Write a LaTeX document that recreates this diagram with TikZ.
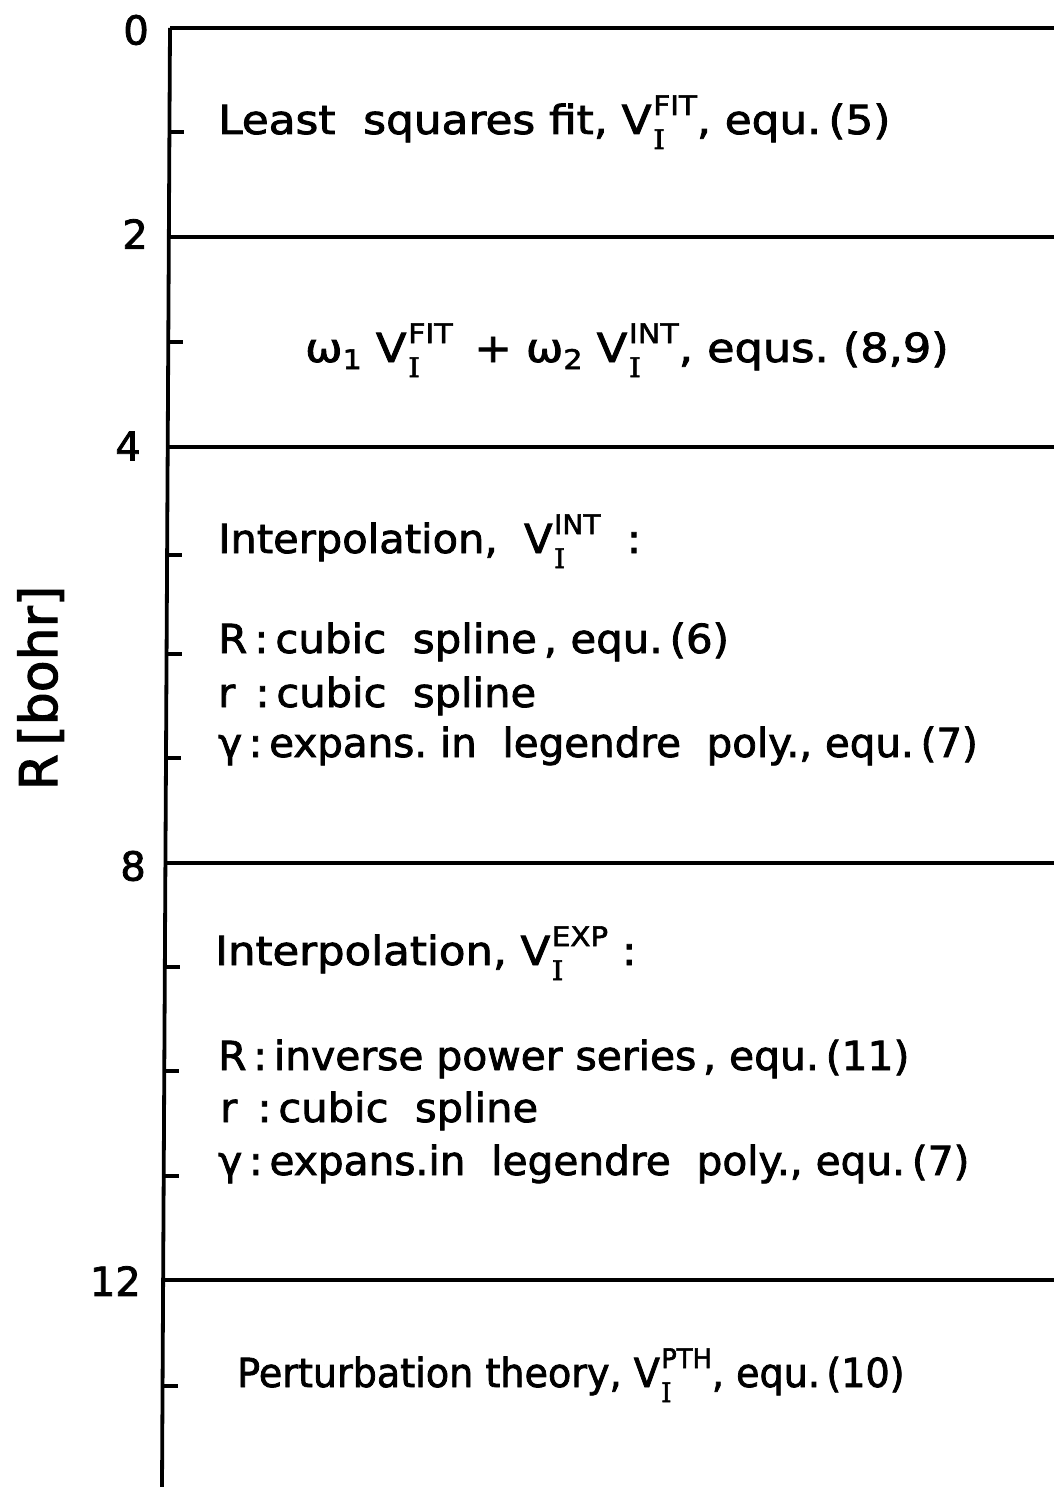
\documentclass[tikz,border=0pt]{standalone}
\usepackage{fontspec}
\usepackage{amsmath}
\setmainfont{DejaVu Sans}[FakeBold=2]
\newfontfamily\serI{DejaVu Serif}[FakeBold=2]
\newcommand{\supsz}{\fontsize{27}{27}\selectfont}
\newcommand{\Vp}[1]{V\kern1.5pt\rlap{\raisebox{-15pt}{\serI\fontsize{27}{27}\selectfont I}}\raisebox{19pt}{\supsz #1}}
\newcommand{\om}[1]{ω\raisebox{-7pt}{\supsz #1}}
\newcommand{\sx}[2]{\scalebox{#1}[1]{#2}}
\tikzset{
  ln/.style={line width=3.2pt},
  ax/.style={line width=3.8pt},
  tk/.style={line width=3.8pt},
  txt/.style={anchor=base west, inner sep=0pt, font=\fontsize{40}{46}\selectfont},
  num/.style={anchor=east, inner sep=0pt, font=\fontsize{40}{44}\selectfont},
}
\begin{document}
\begin{tikzpicture}[x=1pt,y=-1pt]
\useasboundingbox (0,0) rectangle (1054,1487);
% axis
\coordinate (atop) at (170,28);
\coordinate (abot) at (162,1487);
\draw[ax] (atop) -- (abot);
% horizontal boundaries
\foreach \yy/\xx/\nm in {28/170/0, 237/168.9/2, 447/167.7/4, 863/165.4/8, 1280/163.1/12}{
  \coordinate (h\nm) at (\xx,\yy);
  \coordinate (e\nm) at (1054,\yy);
  \draw[ln] (h\nm) -- (e\nm);
}
% ticks
\foreach \yy/\xx in {132/169.4, 342/168.3, 555/167.1, 654/166.6, 758/166, 967/164.9, 1071/164.3, 1176/163.7, 1386/162.5}{
  \draw[tk] (\xx,\yy) -- ++(15,0);
}
% axis numbers
\node[num] (n0) at (149,30) {0};
\node[num] (n2) at (148,234) {2};
\node[num] (n4) at (141,446) {4};
\node[num] (n8) at (146,866) {8};
\node[num] (n12) at (141,1281) {12};
\node[rotate=90, anchor=base, inner sep=0pt, font=\fontsize{52}{60}\selectfont] (lab) at (57,688) {R\,[bohr]};
% texts
\node[txt] (t1) at (218,134) {\sx{1.094}{Least\ \ squares fit, \Vp{FIT}, equ.\,(5)}};
\node[txt] (t2) at (305,362) {\sx{1.116}{\om{1} \Vp{FIT} \,+ \om{2} \Vp{INT}, equs.\ (8,9)}};
\node[txt] (t3) at (218,553) {\sx{1.04}{Interpolation,\ \ \Vp{INT}\ \ :}};
\node[txt] (t4) at (218,653) {\sx{1.047}{R\,:\,cubic\ \ spline\,, equ.\,(6)}};
\node[txt] (t5) at (218,707) {\sx{1.04}{r\ \,:\,cubic\ \ spline}};
\node[txt] (t6) at (218,757) {\sx{1.01}{γ\,:\,expans.\ in\ \ legendre\ \ poly.,\ equ.\,(7)}};
\node[txt] (t7) at (215,965) {\sx{1.085}{Interpolation,\ \Vp{EXP}\ :}};
\node[txt] (t8) at (218,1070) {\sx{1.02}{R\,:\,inverse\ power\ series\,, equ.\,(11)}};
\node[txt] (t9) at (220,1122) {\sx{1.04}{r\ \,:\,cubic\ \ spline}};
\node[txt] (t10) at (218,1175) {\sx{1.016}{γ\,:\,expans.in\ \ legendre\ \ poly.,\ equ.\,(7)}};
\node[txt] (t11) at (237,1387) {\sx{0.953}{Perturbation theory,\ \Vp{PTH}, equ.\,(10)}};
\end{tikzpicture}
\end{document}
